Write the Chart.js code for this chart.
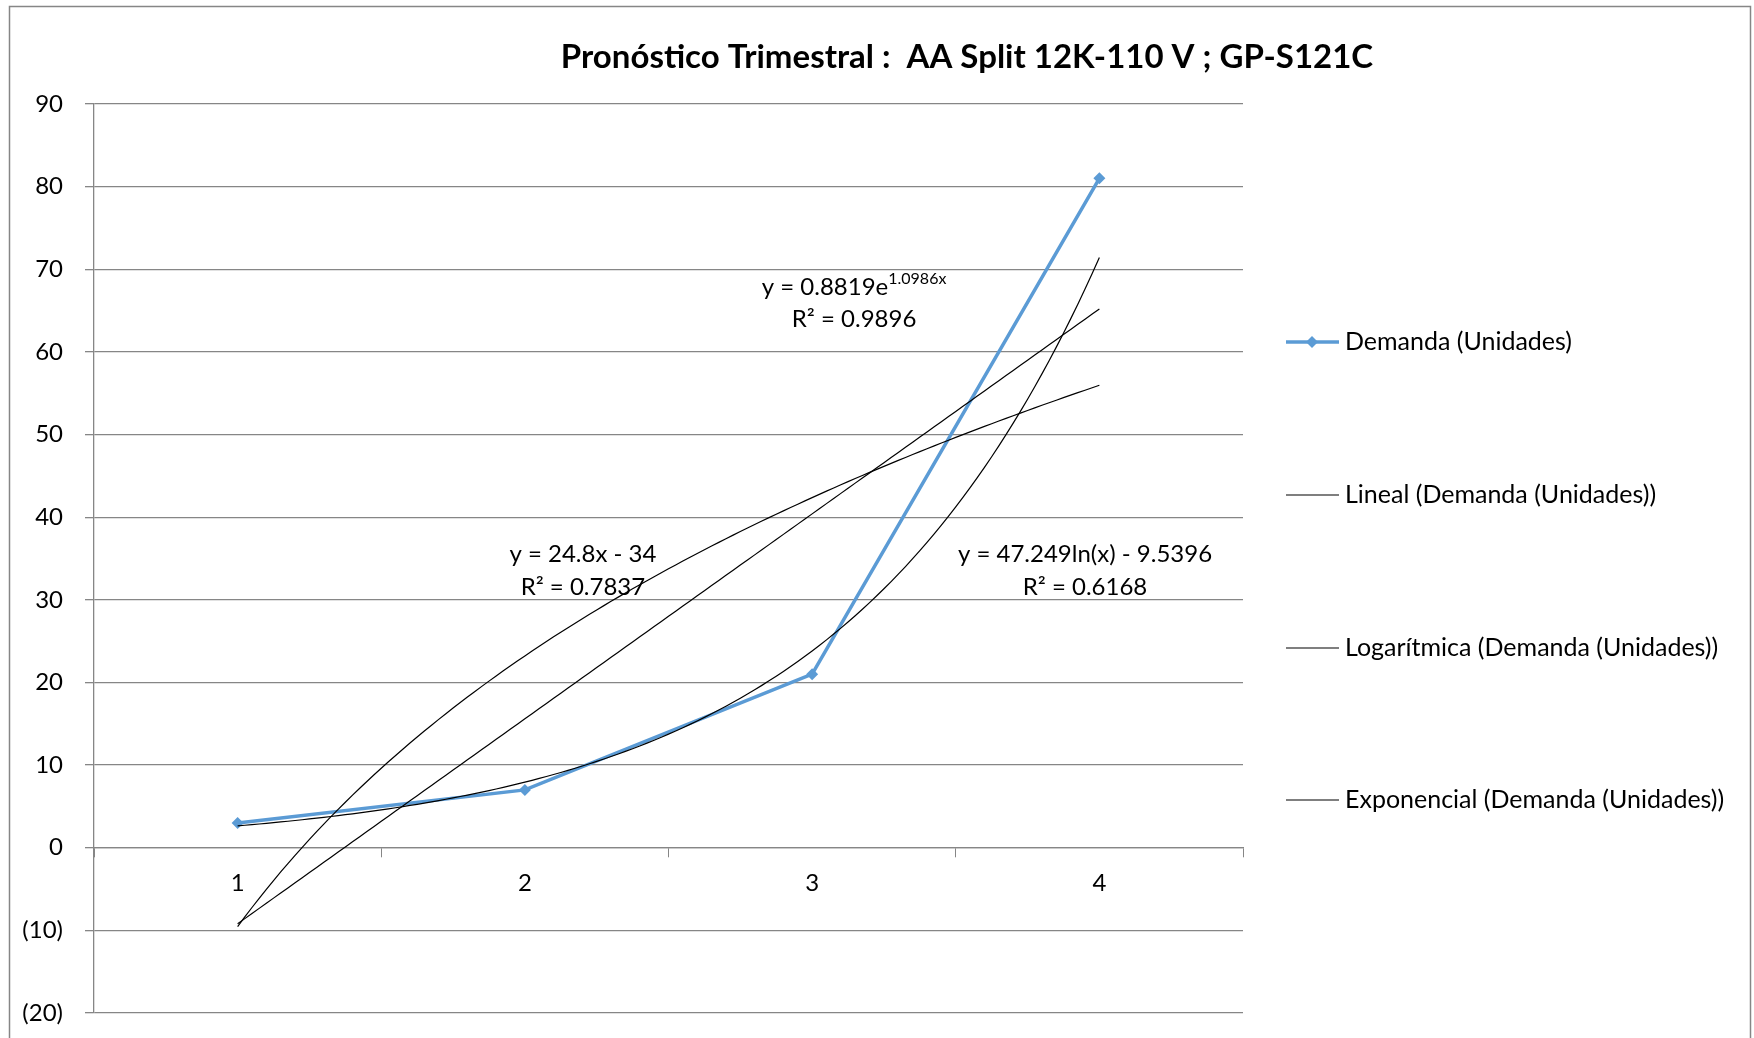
<!DOCTYPE html>
<html lang="es">
<head>
  <meta charset="UTF-8">
  <title>Pronóstico Trimestral</title>
  <script src="https://cdn.jsdelivr.net/npm/chart.js"></script>
  <style>
    html, body {
      margin: 0;
      padding: 0;
      background: #ffffff;
    }
    #chartContainer {
      width: 1754px;
      height: 1038px;
    }
  </style>
</head>
<body>
  <div id="chartContainer">
    <canvas id="lineChart" width="1754" height="1038"></canvas>
  </div>
  <script>
    // datos del gráfico
    const trimestres = ['1', '2', '3', '4'];
    const demanda = [3, 7, 21, 81];
    const yMin = -20;
    const yMax = 90;
    const yPaso = 10;

    const coefLineal = [24.8, -34];        // y = a*x + b
    const coefLog = [47.249, -9.5396];     // y = a*ln(x) + b
    const coefExp = [0.8819, 1.0986];      // y = a*e^(b*x)
    const r2 = { lineal: '0.7837', log: '0.6168', exp: '0.9896' };

    const titulo = 'Pronóstico Trimestral :  AA Split 12K-110 V ; GP-S121C';
    const nombres = [
      'Demanda (Unidades)',
      'Lineal (Demanda (Unidades))',
      'Logarítmica (Demanda (Unidades))',
      'Exponencial (Demanda (Unidades))'
    ];

    const azul = '#5B9BD5';
    const gris = '#868686';
    const fuente = 'Lato, "Open Sans", sans-serif';

    // curva de tendencia entre x=1 y x=4
    function curva(fn) {
      const pts = [];
      for (let i = 0; i <= 120; i++) {
        const x = 1 + i * 3 / 120;
        pts.push({ x: x, y: fn(x) });
      }
      return pts;
    }
    const tendLineal = curva(x => coefLineal[0] * x + coefLineal[1]);
    const tendLog = curva(x => coefLog[0] * Math.log(x) + coefLog[1]);
    const tendExp = curva(x => coefExp[0] * Math.exp(coefExp[1] * x));

    const tendencia = (data) => ({
      type: 'line',
      data: data,
      xAxisID: 'xt',
      borderColor: '#000000',
      borderWidth: 1.2,
      pointRadius: 0,
      fill: false,
      order: 0
    });

    // posiciones de las ecuaciones (en unidades del gráfico)
    const ecuaciones = [
      { x: 2.202, y: 35.5, y2: 31.5, main: 'y = 24.8x - 34', r2: r2.lineal },
      { x: 3.950, y: 35.5, y2: 31.5, main: 'y = 47.249ln(x) - 9.5396', r2: r2.log },
      { x: 3.146, y: 67.8, y2: 63.9, main: 'y = 0.8819e', sup: '1.0986x', r2: r2.exp }
    ];

    const marco = {
      id: 'marco',
      beforeDraw(chart) {
        const ctx = chart.ctx;
        ctx.save();
        ctx.fillStyle = '#ffffff';
        ctx.fillRect(0, 0, chart.width, chart.height);
        ctx.strokeStyle = gris;
        ctx.lineWidth = 1.5;
        ctx.strokeRect(9.5, 6.5, 1741, 1100);
        ctx.restore();
      }
    };

    const textos = {
      id: 'textos',
      afterDraw(chart) {
        const ctx = chart.ctx;
        const xs = chart.scales.xt;
        const ys = chart.scales.y;
        ctx.save();

        // título
        ctx.fillStyle = '#000000';
        ctx.font = 'bold 33px ' + fuente;
        ctx.textAlign = 'center';
        ctx.textBaseline = 'middle';
        ctx.fillText(titulo, 967, 57);

        // ecuaciones
        ecuaciones.forEach(e => {
          const px = xs.getPixelForValue(e.x);
          ctx.font = '24px ' + fuente;
          ctx.textAlign = 'left';
          ctx.textBaseline = 'middle';
          let w = ctx.measureText(e.main).width;
          let ws = 0;
          if (e.sup) {
            ctx.font = '16px ' + fuente;
            ws = ctx.measureText(e.sup).width;
          }
          const x0 = px - (w + ws) / 2;
          const py = ys.getPixelForValue(e.y);
          ctx.font = '24px ' + fuente;
          ctx.fillText(e.main, x0, py);
          if (e.sup) {
            ctx.font = '16px ' + fuente;
            ctx.fillText(e.sup, x0 + w, py - 9);
          }
          ctx.font = '24px ' + fuente;
          ctx.textAlign = 'center';
          ctx.fillText('R² = ' + e.r2, px, ys.getPixelForValue(e.y2));
        });

        // leyenda
        const ly = [342, 495, 648, 800];
        ctx.textAlign = 'left';
        ctx.textBaseline = 'middle';
        nombres.forEach((n, i) => {
          const y = ly[i];
          ctx.beginPath();
          ctx.moveTo(1286, y);
          ctx.lineTo(1339, y);
          if (i === 0) {
            ctx.strokeStyle = azul;
            ctx.lineWidth = 3.5;
            ctx.stroke();
            ctx.fillStyle = azul;
            ctx.beginPath();
            ctx.moveTo(1312, y - 6);
            ctx.lineTo(1318, y);
            ctx.lineTo(1312, y + 6);
            ctx.lineTo(1306, y);
            ctx.closePath();
            ctx.fill();
          } else {
            ctx.strokeStyle = '#000000';
            ctx.lineWidth = 1.2;
            ctx.stroke();
          }
          ctx.fillStyle = '#000000';
          ctx.font = '25px ' + fuente;
          ctx.fillText(n, 1345, y);
        });
        ctx.restore();
      }
    };

    new Chart(document.getElementById('lineChart'), {
      type: 'line',
      data: {
        labels: trimestres,
        datasets: [
          {
            label: nombres[0],
            data: demanda,
            borderColor: azul,
            backgroundColor: azul,
            borderWidth: 3.5,
            pointStyle: 'rectRot',
            pointRadius: 6,
            pointBorderWidth: 0,
            order: 1
          },
          Object.assign({ label: nombres[1] }, tendencia(tendLineal)),
          Object.assign({ label: nombres[2] }, tendencia(tendLog)),
          Object.assign({ label: nombres[3] }, tendencia(tendExp))
        ]
      },
      options: {
        responsive: false,
        animation: false,
        devicePixelRatio: 1,
        layout: {
          padding: { top: 104, bottom: 25, left: 0, right: 511 }
        },
        plugins: {
          legend: { display: false },
          tooltip: { enabled: false },
          title: { display: false }
        },
        scales: {
          x: {
            type: 'category',
            offset: true,
            position: { y: 0 },
            afterFit: (s) => { s.height = 0; },
            grid: {
              offset: true,
              drawOnChartArea: false,
              drawTicks: true,
              tickLength: 9,
              color: gris
            },
            border: { display: true, color: gris, width: 1.3 },
            ticks: {
              color: '#000000',
              padding: 12,
              font: { family: fuente, size: 24 }
            }
          },
          xt: {
            type: 'linear',
            min: 0.5,
            max: 4.5,
            display: false
          },
          y: {
            min: yMin,
            max: yMax,
            afterFit: (s) => {
              s.width = 94;
              s.paddingTop = 0;
              s.paddingBottom = 0;
            },
            grid: {
              color: gris,
              lineWidth: 1.3,
              tickLength: 9
            },
            border: { display: true, color: gris, width: 1.3 },
            ticks: {
              stepSize: yPaso,
              autoSkip: false,
              padding: 22,
              color: '#000000',
              font: { family: fuente, size: 24 },
              callback: (v) => v < 0 ? '(' + (-v) + ')' : String(v)
            }
          }
        }
      },
      plugins: [marco, textos]
    });
  </script>
</body>
</html>
